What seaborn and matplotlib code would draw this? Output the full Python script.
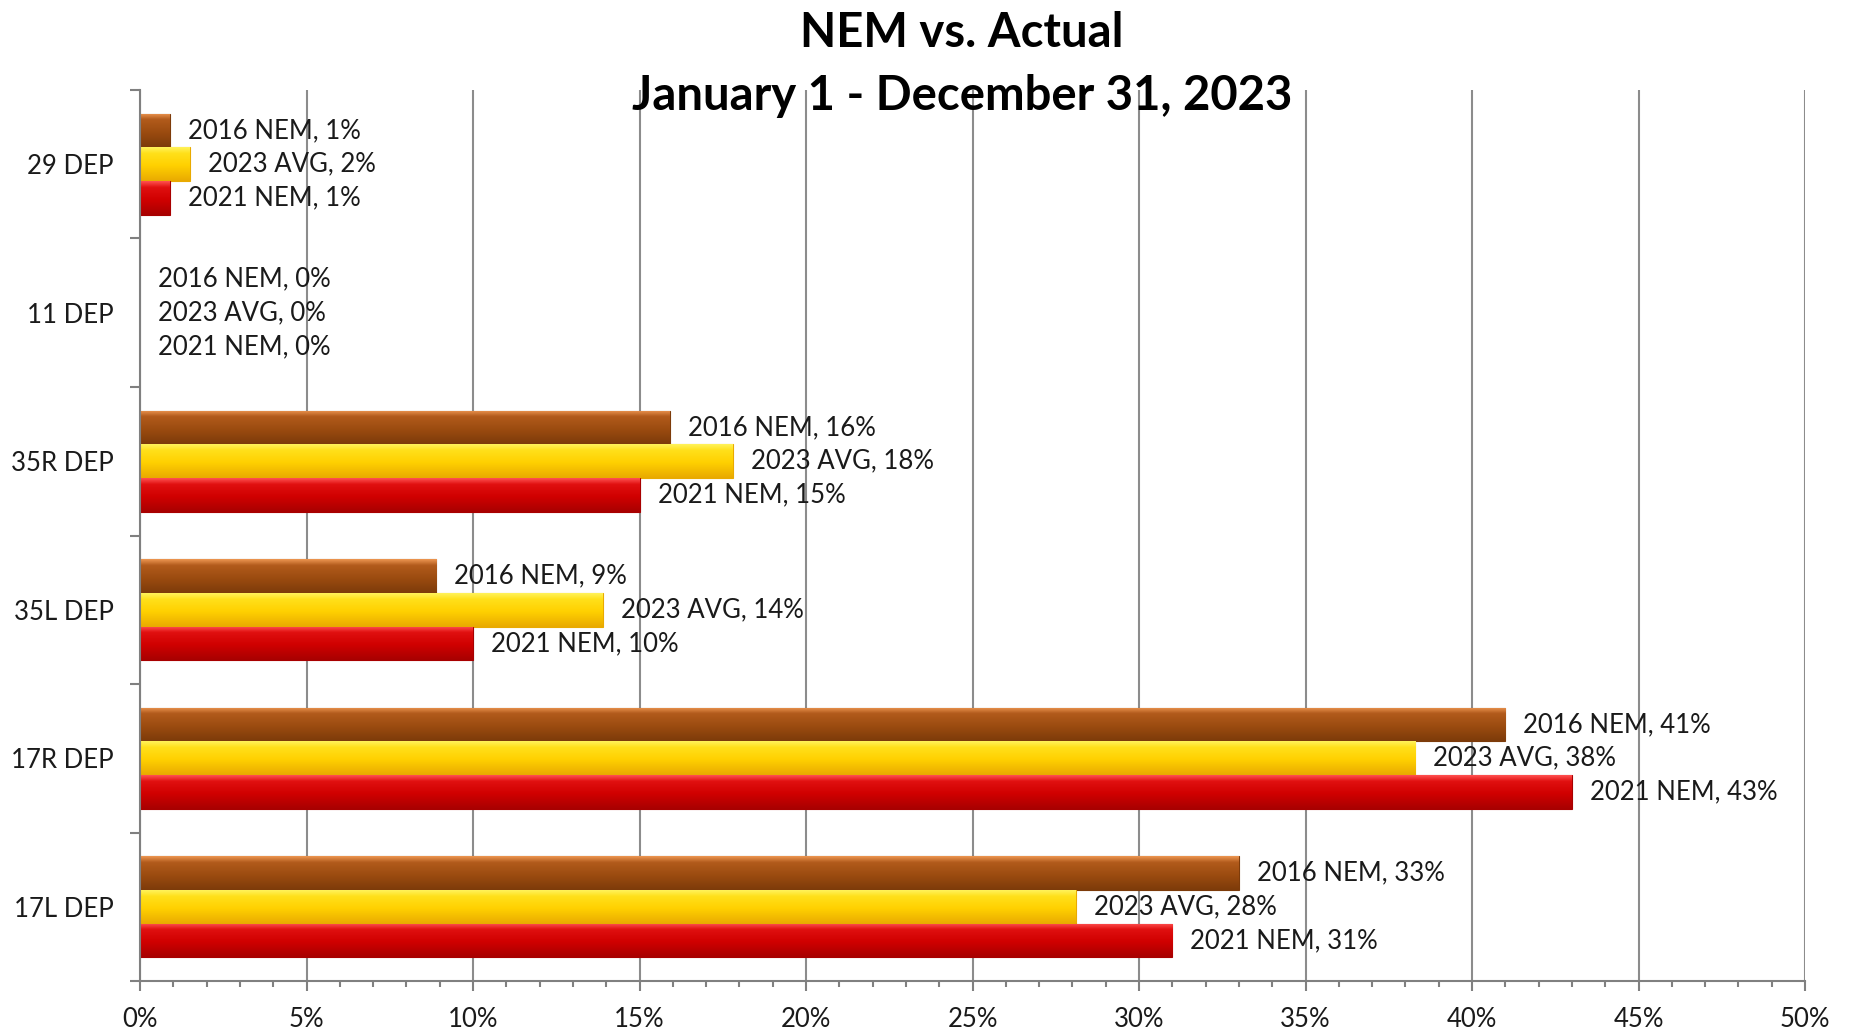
import numpy as np
import pandas as pd
import matplotlib
matplotlib.use("Agg")
import matplotlib.pyplot as plt
import seaborn as sns
from matplotlib.colors import LinearSegmentedColormap
from matplotlib.ticker import MultipleLocator, FuncFormatter

# values (percent of departures)
runways = ["29 DEP", "11 DEP", "35R DEP", "35L DEP", "17R DEP", "17L DEP"]
series = ["2016 NEM", "2023 AVG", "2021 NEM"]
nem_2016 = [0.9, 0.0, 15.9, 8.9, 41.0, 33.0]
avg_2023 = [1.5, 0.0, 17.8, 13.9, 38.3, 28.1]
nem_2021 = [0.9, 0.0, 15.0, 10.0, 43.0, 31.0]

df = pd.DataFrame({
    "runway": runways * 3,
    "series": np.repeat(series, len(runways)),
    "share": nem_2016 + avg_2023 + nem_2021,
})

# light top edge -> body -> darker bottom, per series
shades = {
    "2016 NEM": ["#ec9550", "#b25b1c", "#9c4c10", "#7d3b0a"],
    "2023 AVG": ["#fff25a", "#ffe01a", "#ffd000", "#e9aa00"],
    "2021 NEM": ["#ff5050", "#e01010", "#d00000", "#a80000"],
}
base = {k: v[2] for k, v in shades.items()}

sns.set_style("white")
plt.rcParams["font.family"] = ["Lato", "DejaVu Sans"]

fig = plt.figure(figsize=(18.5, 10.32), dpi=100)
ax = fig.add_axes([0.0757, 0.0494, 0.9, 0.8634])

sns.barplot(data=df, y="runway", x="share", hue="series", order=runways,
            hue_order=series, palette=base, orient="h", width=0.68, gap=0,
            legend=False, ax=ax, zorder=3)

grad = np.linspace(0, 1, 64).reshape(-1, 1)
for name, cont in zip(series, ax.containers):
    cmap = LinearSegmentedColormap.from_list(
        name, list(zip([0.0, 0.18, 0.55, 1.0], shades[name])))
    for bar in cont:
        w = bar.get_width()
        if w <= 0:
            bar.set_linewidth(0)
            bar.set_alpha(0)
            continue
        x0, y0, h = bar.get_x(), bar.get_y(), bar.get_height()
        bar.set_edgecolor(shades[name][3])
        bar.set_linewidth(0.8)
        im = ax.imshow(grad, extent=(x0, x0 + w, y0 + h, y0), origin="upper",
                       aspect="auto", cmap=cmap, zorder=3.5, interpolation="bilinear")
        im.set_clip_path(bar)
    vals = [b.get_width() for b in cont]
    ax.bar_label(cont, labels=[f"{name}, {v:.0f}%" for v in vals],
                 padding=13, fontsize=18.5, color="#1a1a1a", zorder=5)

ax.set_xlim(0, 50)
ax.set_ylim(len(runways) - 0.5, -0.5)
ax.set_xlabel("")
ax.set_ylabel("")

ax.xaxis.set_major_locator(MultipleLocator(5))
ax.xaxis.set_minor_locator(MultipleLocator(1))
ax.xaxis.set_major_formatter(FuncFormatter(lambda v, p: f"{v:.0f}%"))
ax.set_yticks(np.arange(len(runways)), runways)
ax.set_yticks(np.arange(len(runways) + 1) - 0.5, minor=True)

ax.tick_params(which="both", bottom=True, left=True)
ax.tick_params(axis="x", which="major", direction="out", length=7, width=1.5,
               color="#808080", labelsize=18.5, pad=12, labelcolor="#1a1a1a")
ax.tick_params(axis="x", which="minor", direction="out", length=4.5, width=1.5,
               color="#808080")
ax.tick_params(axis="y", which="major", length=0, labelsize=18.5, pad=19,
               labelcolor="#1a1a1a")
ax.tick_params(axis="y", which="minor", direction="out", length=7, width=1.5,
               color="#808080")

ax.grid(axis="x", which="major", color="#8c8c8c", linewidth=1.5, zorder=0)
ax.set_axisbelow(True)
for s in ["top", "right"]:
    ax.spines[s].set_visible(False)
for s in ["left", "bottom"]:
    ax.spines[s].set_color("#808080")
    ax.spines[s].set_linewidth(1.5)
    ax.spines[s].set_zorder(4)

fig.text(0.52, 0.968, "NEM vs. Actual", ha="center", va="center",
         fontsize=34, fontweight="bold", color="black")
fig.text(0.52, 0.907, "January 1 - December 31, 2023", ha="center", va="center",
         fontsize=34, fontweight="bold", color="black")

fig.savefig("out.png", dpi=100)
